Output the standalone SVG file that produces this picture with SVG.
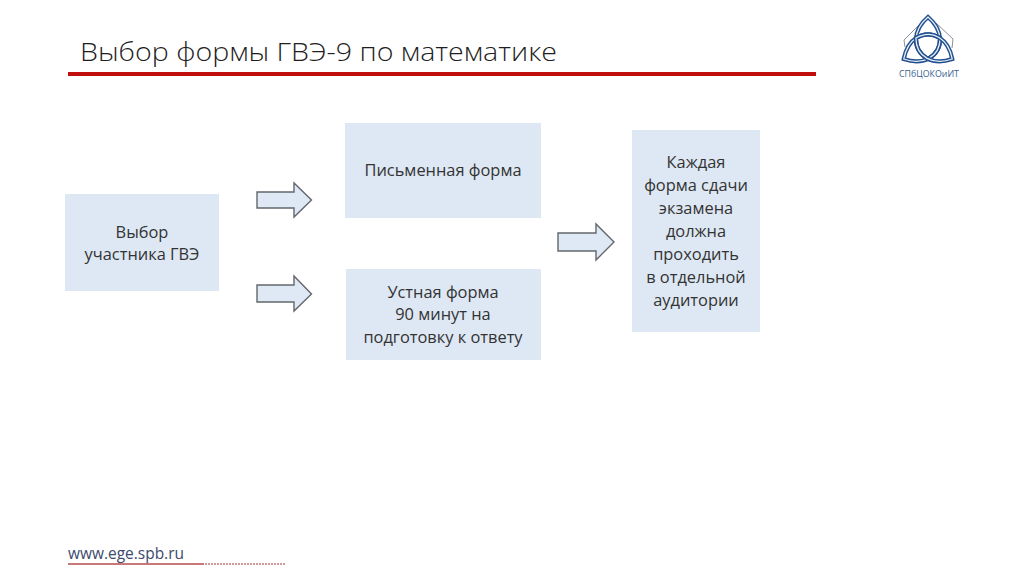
<svg xmlns="http://www.w3.org/2000/svg" width="1024" height="574" viewBox="0 0 1024 574">
<style>
.box{fill:#dee8f4}
.t{font-family:"Open Sans","Noto Sans",sans-serif;font-size:16.4px;fill:#333;text-anchor:middle}
.arrow{fill:#dfe9f5;stroke:#63676c;stroke-width:1.4}
.k1{fill:none;stroke:#23508f;stroke-width:4.2}
.k2{fill:none;stroke:#e8eef6;stroke-width:1.3}
</style>
<defs>
<path id="lobe" d="M928 17 C913 30 911 49 928 59 C945 49 943 30 928 17Z"/>
</defs>
<rect width="1024" height="574" fill="#fff"/>
<text id="title" x="80" y="61" font-family="'Open Sans',sans-serif" font-weight="300" font-size="26" fill="#1f1f1f" textLength="477" lengthAdjust="spacingAndGlyphs">Выбор формы ГВЭ-9 по математике</text>
<rect x="68" y="72" width="748" height="4" fill="#c00d0d"/>
<g id="logo">
<path d="M905 47 L904 40 L921 23 M936 23 L953 39 L952 48" fill="none" stroke="#8a8f98" stroke-width="1"/>
<use href="#lobe" class="k1"/><use href="#lobe" class="k2"/>
<use href="#lobe" class="k1" transform="rotate(-120 928 45)"/><use href="#lobe" class="k2" transform="rotate(-120 928 45)"/>
<use href="#lobe" class="k1" transform="rotate(120 928 45)"/><use href="#lobe" class="k2" transform="rotate(120 928 45)"/>
<text x="929" y="77" font-family="'Open Sans',sans-serif" font-size="8.8" fill="#3a5f93" text-anchor="middle">СПбЦОКОиИТ</text>
</g>
<g id="connectors">
<path class="arrow" d="M257 192 H294 V183 L311.5 200 L294 217 V208 H257Z"/>
<path class="arrow" d="M257 285 H294 V276 L311.5 294 L294 311 V302 H257Z"/>
<path class="arrow" d="M558 233 H596 V224 L614 242 L596 260 V251 H558Z"/>
</g>
<g id="node-choice">
<rect class="box" x="65" y="194" width="154" height="97"/>
<text class="t" x="142" y="238">Выбор</text>
<text class="t" x="142" y="260">участника ГВЭ</text>
</g>
<g id="node-written">
<rect class="box" x="345" y="123" width="196" height="95"/>
<text class="t" x="443" y="176">Письменная форма</text>
</g>
<g id="node-oral">
<rect class="box" x="346" y="269" width="195" height="91"/>
<text class="t" x="443" y="298">Устная форма</text>
<text class="t" x="443" y="320">90 минут на</text>
<text class="t" x="443" y="343">подготовку к ответу</text>
</g>
<g id="node-note">
<rect class="box" x="632" y="130" width="128" height="202"/>
<text class="t" x="696" y="168">Каждая</text>
<text class="t" x="696" y="191">форма сдачи</text>
<text class="t" x="696" y="214">экзамена</text>
<text class="t" x="696" y="237">должна</text>
<text class="t" x="696" y="260">проходить</text>
<text class="t" x="696" y="283">в отдельной</text>
<text class="t" x="696" y="306">аудитории</text>
</g>
<g id="footer">
<text x="68" y="559" font-family="'Open Sans',sans-serif" font-weight="500" font-size="16.5" fill="#3c4a6e" textLength="116" lengthAdjust="spacingAndGlyphs">www.ege.spb.ru</text>
<rect x="68" y="563" width="136" height="2" fill="#c87878"/>
<line x1="205" y1="564" x2="286" y2="564" stroke="#d49a9a" stroke-width="2" stroke-dasharray="2 1"/>
</g>
</svg>
